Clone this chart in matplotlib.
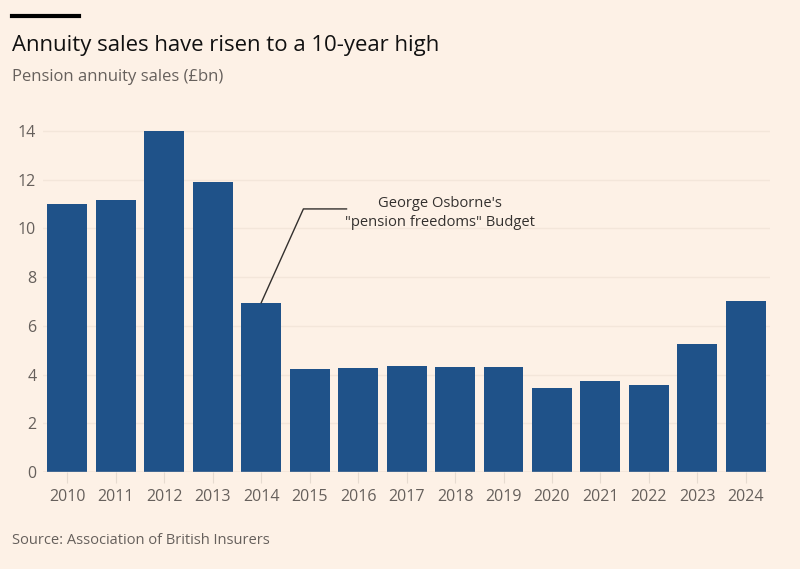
import matplotlib
matplotlib.use("Agg")
import matplotlib.pyplot as plt
from matplotlib.lines import Line2D

# Pension annuity sales (GBP bn)
years = ["2010", "2011", "2012", "2013", "2014", "2015", "2016", "2017",
         "2018", "2019", "2020", "2021", "2022", "2023", "2024"]
sales = [11.0, 11.15, 14.0, 11.9, 6.95, 4.22, 4.25, 4.37,
         4.33, 4.29, 3.46, 3.75, 3.58, 5.26, 7.03]
y_ticks = [0, 2, 4, 6, 8, 10, 12, 14]

title = "Annuity sales have risen to a 10-year high"
subtitle = "Pension annuity sales (£bn)"
source = "Source: Association of British Insurers"
note = "George Osborne's\n\"pension freedoms\" Budget"

bg = "#fdf1e6"
bar_col = "#1f5289"
grey = "#66605c"

plt.rcParams['font.family'] = ['Open Sans', 'DejaVu Sans']

fig = plt.figure(figsize=(8, 5.69), dpi=100, facecolor=bg)
ax = fig.add_axes([0.054, 0.1705, 0.9085, 0.6207], facecolor=bg)

x = list(range(len(years)))
ax.bar(x, sales, width=0.825, color=bar_col, zorder=3)

ax.set_xlim(-0.5, len(years) - 0.5)
ax.set_ylim(0, 14.5)
ax.set_yticks(y_ticks)
ax.set_xticks(x)
ax.set_xticklabels(years)
ax.tick_params(axis='y', length=0, pad=5, labelsize=11.5, labelcolor=grey)
ax.tick_params(axis='x', length=8, width=0.8, color="#e6dbd0", pad=4,
               labelsize=11.5, labelcolor=grey)
ax.grid(axis='y', color="#f3e6da", linewidth=1, zorder=0)
for s in ax.spines.values():
    s.set_visible(False)
ax.axhline(0, color="#d8ccc1", linewidth=1, zorder=4)

# annotation leader line for the 2014 budget
ax.add_line(Line2D([4.0, 4.87, 5.76], [sales[4], 10.8, 10.8],
                   color="#33302e", linewidth=1, zorder=5))
ax.text(7.68, 10.65, note, ha='center', va='center', fontsize=10.6,
        color="#33302e", linespacing=1.35)

# header and footer
fig.add_artist(Line2D([12 / 800, 79 / 800], [1 - 16 / 569, 1 - 16 / 569],
                      color="#000000", linewidth=3))
fig.text(12 / 800, 1 - 45 / 569, title, ha='left', va='center',
         fontsize=15.9, color="#111111")
fig.text(12 / 800, 1 - 77 / 569, subtitle, ha='left', va='center',
         fontsize=12, color=grey)
fig.text(12 / 800, 1 - 540 / 569, source, ha='left', va='center',
         fontsize=10.5, color=grey)

fig.savefig("out.png", dpi=100, facecolor=bg)
